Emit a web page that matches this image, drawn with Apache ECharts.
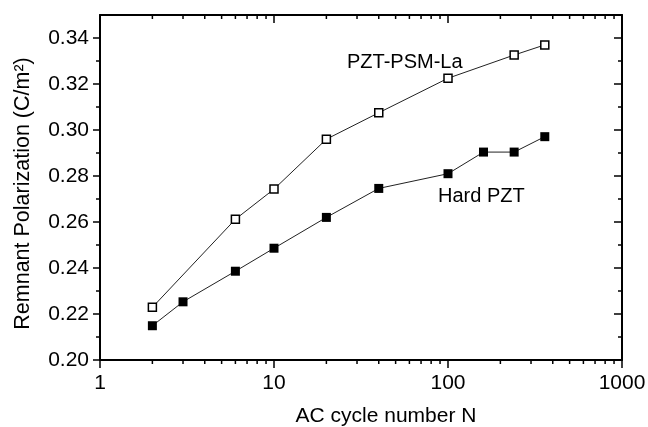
<!DOCTYPE html>
<html><head><meta charset="utf-8">
<script src="https://cdn.jsdelivr.net/npm/echarts@6/dist/echarts.min.js"></script>
<style>html,body{margin:0;padding:0;background:#fff}#c{width:648px;height:427px}</style>
</head><body><div id="c"></div>
<script>
const cyclesLa = [2, 6, 10, 20, 40, 100, 240, 360];
const pztPsmLa = [0.2229, 0.2612, 0.2743, 0.2960, 0.3075, 0.3225, 0.3326, 0.3370];
const cyclesHard = [2, 3, 6, 10, 20, 40, 100, 160, 240, 360];
const hardPzt = [0.2149, 0.2253, 0.2386, 0.2486, 0.2620, 0.2746, 0.2810, 0.2904, 0.2904, 0.2971];
const xTickLabels = [1, 10, 100, 1000];
const yTickLabels = [0.20, 0.22, 0.24, 0.26, 0.28, 0.30, 0.32, 0.34];
const xMinorTicks = [2,3,4,5,6,7,8,9,20,30,40,50,60,70,80,90,200,300,400,500,600,700,800,900];
const yMinorTicks = [0.21, 0.23, 0.25, 0.27, 0.29, 0.31, 0.33];
const X_MIN = 1, X_MAX = 1000, Y_MIN = 0.20, Y_MAX = 0.35;

const FONT = '"Liberation Sans", Arial, Helvetica, sans-serif';
const chart = echarts.init(document.getElementById('c'));
const tickStyle = { color: '#000', width: 1.5 };
const axisLineStyle = { color: '#000', width: 2 };

function xMinorRender(params, api) {
  const v = api.value(0);
  const b = api.coord([v, Y_MIN]);
  const t = api.coord([v, Y_MAX]);
  return { type: 'group', children: [
    { type: 'line', shape: { x1: b[0], y1: b[1], x2: b[0], y2: b[1] + 4 }, style: { stroke: '#000', lineWidth: 1.5 } },
    { type: 'line', shape: { x1: t[0], y1: t[1], x2: t[0], y2: t[1] + 4 }, style: { stroke: '#000', lineWidth: 1.5 } }
  ]};
}
function yMinorRender(params, api) {
  const v = api.value(1);
  const l = api.coord([X_MIN, v]);
  const r = api.coord([X_MAX, v]);
  return { type: 'group', children: [
    { type: 'line', shape: { x1: l[0] - 4, y1: l[1], x2: l[0], y2: l[1] }, style: { stroke: '#000', lineWidth: 1.5 } },
    { type: 'line', shape: { x1: r[0] - 4, y1: r[1], x2: r[0], y2: r[1] }, style: { stroke: '#000', lineWidth: 1.5 } }
  ]};
}

chart.setOption({
  animation: false,
  backgroundColor: '#fff',
  textStyle: { fontFamily: FONT },
  grid: { left: 100, right: 26, top: 15, bottom: 67, containLabel: false, outerBoundsMode: 'none' },
  xAxis: [
    { type: 'log', logBase: 10, min: X_MIN, max: X_MAX, position: 'bottom',
      name: 'AC cycle number N', nameLocation: 'middle', nameGap: 46,
      nameTextStyle: { fontSize: 21, color: '#000', fontFamily: FONT, padding: [0, 0, 0, 50] },
      axisLine: { show: true, lineStyle: axisLineStyle },
      axisTick: { show: true, length: 8, lineStyle: tickStyle, customValues: xTickLabels },
      axisLabel: { fontSize: 21, color: '#000', fontFamily: FONT, margin: 13, customValues: xTickLabels,
        formatter: v => String(Math.round(v)) },
      splitLine: { show: false }, minorTick: { show: false }, minorSplitLine: { show: false } },
    { type: 'log', logBase: 10, min: X_MIN, max: X_MAX, position: 'top',
      axisLine: { show: true, lineStyle: axisLineStyle },
      axisTick: { show: true, inside: true, length: 8, lineStyle: tickStyle, customValues: xTickLabels },
      axisLabel: { show: false }, splitLine: { show: false } }
  ],
  yAxis: [
    { type: 'value', min: Y_MIN, max: Y_MAX, interval: 0.02, position: 'left',
      name: 'Remnant Polarization (C/m²)', nameLocation: 'middle', nameGap: 66,
      nameTextStyle: { fontSize: 21.5, color: '#000', fontFamily: FONT, padding: [0, 12, 0, 0] },
      axisLine: { show: true, lineStyle: axisLineStyle },
      axisTick: { show: true, length: 7, lineStyle: tickStyle, customValues: yTickLabels },
      axisLabel: { fontSize: 21, color: '#000', fontFamily: FONT, margin: 11, customValues: yTickLabels,
        formatter: v => Number(v).toFixed(2) },
      splitLine: { show: false } },
    { type: 'value', min: Y_MIN, max: Y_MAX, interval: 0.02, position: 'right',
      axisLine: { show: true, lineStyle: axisLineStyle },
      axisTick: { show: true, inside: true, length: 8, lineStyle: tickStyle, customValues: yTickLabels },
      axisLabel: { show: false }, splitLine: { show: false } }
  ],
  series: [
    { name: 'PZT-PSM-La', type: 'line', xAxisIndex: 0, yAxisIndex: 0,
      data: cyclesLa.map((x, i) => [x, pztPsmLa[i]]),
      lineStyle: { color: '#222', width: 1 },
      symbol: 'rect', symbolSize: 8,
      itemStyle: { color: '#fff', borderColor: '#000', borderWidth: 1.5 }, z: 3 },
    { name: 'Hard PZT', type: 'line', xAxisIndex: 0, yAxisIndex: 0,
      data: cyclesHard.map((x, i) => [x, hardPzt[i]]),
      lineStyle: { color: '#222', width: 1 },
      symbol: 'rect', symbolSize: 9,
      itemStyle: { color: '#000', borderColor: '#000', borderWidth: 0 }, z: 3 },
    { type: 'custom', xAxisIndex: 0, yAxisIndex: 0, clip: false, silent: true,
      renderItem: xMinorRender, data: xMinorTicks.map(v => [v, Y_MIN]), z: 5 },
    { type: 'custom', xAxisIndex: 0, yAxisIndex: 0, clip: false, silent: true,
      renderItem: yMinorRender, data: yMinorTicks.map(v => [X_MIN, v]), z: 5 }
  ],
  graphic: [
    { type: 'text', left: 347, top: 52, style: { text: 'PZT-PSM-La', fontSize: 20, fontFamily: FONT, fill: '#000' } },
    { type: 'text', left: 438, top: 186, style: { text: 'Hard PZT', fontSize: 20, fontFamily: FONT, fill: '#000' } }
  ]
});
</script></body></html>
